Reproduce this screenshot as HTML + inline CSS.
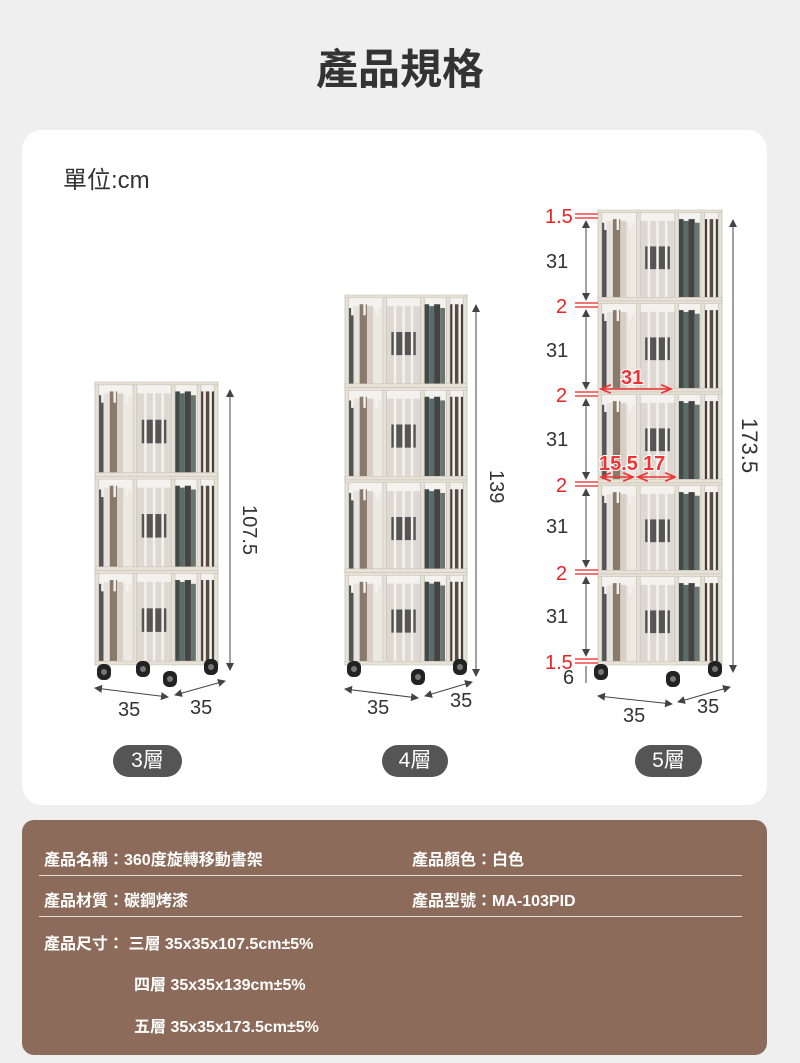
<!DOCTYPE html>
<html><head><meta charset="utf-8"><style>
body{margin:0;width:800px;height:1063px;background:#efefef;font-family:"Liberation Sans","Noto Sans CJK TC",sans-serif;position:relative;overflow:hidden}
.t{position:absolute;left:0;width:800px;top:36px;text-align:center;font-size:42px;font-weight:bold;color:#333}
.card{position:absolute;left:22px;top:130px;width:745px;height:675px;background:#fff;border-radius:20px}
.unit{position:absolute;left:63px;top:160px;font-size:24px;color:#333}
.pill{position:absolute;top:745px;height:32px;line-height:32px;background:#555;color:#fff;border-radius:16px;font-size:21px;text-align:center}
.info{position:absolute;left:22px;top:820px;width:745px;height:235px;background:#8d6b5a;border-radius:12px;color:#fff;font-size:16px;font-weight:bold}
.info div{position:absolute;white-space:nowrap}
.hr{height:1px;background:#e8dcd4;left:17px;width:703px}
</style></head><body>
<div class="t">產品規格</div>
<div class="card"></div>
<div class="unit">單位:cm</div>
<svg width="800" height="1063" style="position:absolute;left:0;top:0">
<defs>
<g id="tier">
<rect x="0" y="0" width="100" height="100" fill="#f4f2ee"/>
<rect x="3" y="14" width="4" height="82" fill="#555"/><rect x="7" y="12" width="5" height="84" fill="#e6e2dc"/><rect x="12" y="10" width="6" height="86" fill="#8a7a6c"/><rect x="18" y="12" width="5" height="84" fill="#d8d0c6"/><rect x="23" y="14" width="7" height="82" fill="#ece8e2"/>
<rect x="34" y="12" width="28" height="84" fill="#ddd8d2"/><rect x="38" y="40" width="20" height="25" fill="#555"/>
<rect x="65" y="10" width="4" height="86" fill="#3f4a4a"/><rect x="69" y="12" width="4" height="84" fill="#5b6b66"/><rect x="73" y="10" width="5" height="86" fill="#444"/><rect x="78" y="14" width="4" height="82" fill="#6a7470"/>
<rect x="86" y="10" width="3" height="86" fill="#4a3a36"/><rect x="90" y="10" width="3" height="86" fill="#5a4a44"/><rect x="94" y="10" width="3" height="86" fill="#3e3e3e"/>
<g fill="#f4f2ee"><rect x="40" y="2" width="2" height="96"/><rect x="47" y="2" width="2" height="96"/><rect x="54" y="2" width="2" height="96"/><rect x="5" y="2" width="2" height="20"/><rect x="15" y="2" width="2" height="20"/><rect x="25" y="2" width="2" height="20"/><rect x="88" y="2" width="2" height="96"/><rect x="93" y="2" width="2" height="96"/></g>
<g fill="#e7e2d8" stroke="#c8c0b2" stroke-width="0.6"><rect x="0" y="0" width="3" height="100"/><rect x="31" y="0" width="3" height="100"/><rect x="62" y="0" width="3" height="100"/><rect x="83" y="0" width="3" height="100"/><rect x="97" y="0" width="3" height="100"/><rect x="0" y="96" width="100" height="4"/><rect x="0" y="0" width="100" height="3"/></g>
</g>
<g id="wheel"><rect x="-7" y="0" width="14" height="16" rx="6" fill="#222"/><circle cx="0" cy="8" r="3" fill="#777"/></g>
<marker id="ar" markerWidth="8" markerHeight="8" refX="7" refY="4" orient="auto-start-reverse"><path d="M0,0 L8,4 L0,8z" fill="#444"/></marker>
<marker id="rr" markerWidth="8" markerHeight="8" refX="7" refY="4" orient="auto-start-reverse"><path d="M0,1 L7,4 L0,7" fill="none" stroke="#e33" stroke-width="1.2"/></marker>
</defs>
<!-- shelf 1 -->
<g transform="translate(95,382)"><g transform="scale(1.23,0.943)"><use href="#tier"/><use href="#tier" y="100"/><use href="#tier" y="200"/></g></g>
<use href="#wheel" x="104" y="664"/><use href="#wheel" x="170" y="671"/><use href="#wheel" x="211" y="659"/><use href="#wheel" x="143" y="661"/>
<line x1="230" y1="390" x2="230" y2="670" stroke="#444" marker-start="url(#ar)" marker-end="url(#ar)"/>
<text x="243" y="505" font-size="20" fill="#333" transform="rotate(90 243 505)">107.5</text>
<line x1="95" y1="688" x2="168" y2="697" stroke="#444" marker-start="url(#ar)" marker-end="url(#ar)"/>
<line x1="175" y1="695" x2="225" y2="681" stroke="#444" marker-start="url(#ar)" marker-end="url(#ar)"/>
<text x="118" y="716" font-size="20" fill="#333">35</text><text x="190" y="714" font-size="20" fill="#333">35</text>
<!-- shelf 2 -->
<g transform="translate(345,295)"><g transform="scale(1.22,0.925)"><use href="#tier"/><use href="#tier" y="100"/><use href="#tier" y="200"/><use href="#tier" y="300"/></g></g>
<use href="#wheel" x="354" y="661"/><use href="#wheel" x="418" y="669"/><use href="#wheel" x="460" y="659"/>
<line x1="476" y1="305" x2="476" y2="676" stroke="#444" marker-start="url(#ar)" marker-end="url(#ar)"/>
<text x="490" y="470" font-size="20" fill="#333" transform="rotate(90 490 470)">139</text>
<line x1="345" y1="689" x2="418" y2="698" stroke="#444" marker-start="url(#ar)" marker-end="url(#ar)"/>
<line x1="425" y1="696" x2="472" y2="682" stroke="#444" marker-start="url(#ar)" marker-end="url(#ar)"/>
<text x="367" y="714" font-size="20" fill="#333">35</text><text x="450" y="707" font-size="20" fill="#333">35</text>
<!-- shelf 3 -->
<g transform="translate(598,210)"><g transform="scale(1.24,0.91)"><use href="#tier"/><use href="#tier" y="100"/><use href="#tier" y="200"/><use href="#tier" y="300"/><use href="#tier" y="400"/></g></g>
<use href="#wheel" x="601" y="664"/><use href="#wheel" x="673" y="671"/><use href="#wheel" x="715" y="661"/>
<line x1="733" y1="220" x2="733" y2="672" stroke="#444" marker-start="url(#ar)" marker-end="url(#ar)"/>
<text x="742" y="418" font-size="22" fill="#333" transform="rotate(90 742 418)">173.5</text>
<line x1="598" y1="696" x2="672" y2="704" stroke="#444" marker-start="url(#ar)" marker-end="url(#ar)"/>
<line x1="678" y1="702" x2="730" y2="687" stroke="#444" marker-start="url(#ar)" marker-end="url(#ar)"/>
<text x="623" y="722" font-size="20" fill="#333">35</text><text x="697" y="713" font-size="20" fill="#333">35</text>
<g stroke="#e22" stroke-width="1.2">
<line x1="575" y1="214" x2="598" y2="214"/><line x1="575" y1="218" x2="598" y2="218"/>
<line x1="575" y1="303" x2="598" y2="303"/><line x1="575" y1="307" x2="598" y2="307"/>
<line x1="575" y1="392" x2="598" y2="392"/><line x1="575" y1="396" x2="598" y2="396"/>
<line x1="575" y1="482" x2="598" y2="482"/><line x1="575" y1="486" x2="598" y2="486"/>
<line x1="575" y1="570" x2="598" y2="570"/><line x1="575" y1="574" x2="598" y2="574"/>
<line x1="575" y1="659" x2="598" y2="659"/><line x1="575" y1="663" x2="598" y2="663"/>
</g>
<g stroke="#444" fill="none">
<line x1="586" y1="221" x2="586" y2="300" marker-start="url(#ar)" marker-end="url(#ar)"/>
<line x1="586" y1="310" x2="586" y2="389" marker-start="url(#ar)" marker-end="url(#ar)"/>
<line x1="586" y1="399" x2="586" y2="479" marker-start="url(#ar)" marker-end="url(#ar)"/>
<line x1="586" y1="489" x2="586" y2="567" marker-start="url(#ar)" marker-end="url(#ar)"/>
<line x1="586" y1="577" x2="586" y2="656" marker-start="url(#ar)" marker-end="url(#ar)"/>
<line x1="586" y1="666" x2="586" y2="683"/>
</g>
<g font-size="20" fill="#333"><text x="546" y="268">31</text><text x="546" y="357">31</text><text x="546" y="446">31</text><text x="546" y="533">31</text><text x="546" y="623">31</text><text x="563" y="684">6</text></g>
<g font-size="20" fill="#e22"><text x="545" y="223">1.5</text><text x="556" y="313">2</text><text x="556" y="402">2</text><text x="556" y="492">2</text><text x="556" y="580">2</text><text x="545" y="669">1.5</text></g>
<g stroke="#e33" stroke-width="1.4"><line x1="601" y1="389" x2="671" y2="389" marker-start="url(#rr)" marker-end="url(#rr)"/><line x1="601" y1="477" x2="633" y2="477" marker-start="url(#rr)" marker-end="url(#rr)"/><line x1="638" y1="477" x2="675" y2="477" marker-start="url(#rr)" marker-end="url(#rr)"/></g>
<g font-size="20" font-weight="bold" fill="#e33" stroke="#fff" stroke-width="2" paint-order="stroke"><text x="621" y="384">31</text><text x="599" y="470">15.5</text><text x="643" y="470">17</text></g>
</svg>
<div class="pill" style="left:113px;width:69px">3層</div>
<div class="pill" style="left:382px;width:66px">4層</div>
<div class="pill" style="left:635px;width:67px">5層</div>
<div class="info">
<div style="left:22px;top:26px">產品名稱：360度旋轉移動書架</div>
<div style="left:390px;top:26px">產品顏色：白色</div>
<div class="hr" style="top:55px"></div>
<div style="left:22px;top:67px">產品材質：碳鋼烤漆</div>
<div style="left:390px;top:67px">產品型號：MA-103PID</div>
<div class="hr" style="top:96px"></div>
<div style="left:22px;top:110px">產品尺寸： 三層 35x35x107.5cm±5%</div>
<div style="left:112px;top:151px">四層 35x35x139cm±5%</div>
<div style="left:112px;top:193px">五層 35x35x173.5cm±5%</div>
</div>
</body></html>
